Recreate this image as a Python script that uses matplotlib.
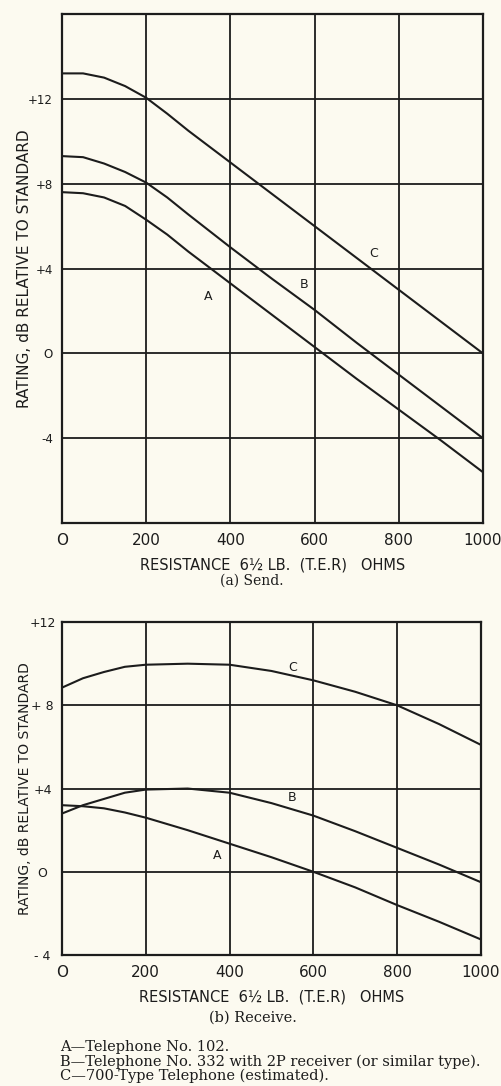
import numpy as np
import matplotlib
matplotlib.use('Agg')
import matplotlib.pyplot as plt

# resistance, ohms
x_send = [0, 50, 100, 150, 200, 250, 300, 400, 500, 600, 700, 800, 900, 1000]
send_A = [7.6, 7.55, 7.35, 6.95, 6.3, 5.6, 4.8, 3.3, 1.8, 0.3, -1.2, -2.65, -4.1, -5.6]
send_B = [9.3, 9.25, 8.95, 8.55, 8.05, 7.35, 6.55, 5.0, 3.5, 2.05, 0.5, -1.0, -2.5, -4.0]
send_C = [13.2, 13.2, 13.0, 12.6, 12.05, 11.3, 10.5, 9.0, 7.5, 6.0, 4.5, 3.0, 1.5, 0.0]

x_recv = [0, 50, 100, 150, 200, 300, 400, 500, 600, 700, 800, 900, 1000]
recv_A = [3.2, 3.15, 3.05, 2.85, 2.6, 2.0, 1.35, 0.7, 0.0, -0.75, -1.6, -2.4, -3.25]
recv_B = [2.8, 3.2, 3.5, 3.8, 3.95, 4.0, 3.8, 3.3, 2.7, 1.95, 1.15, 0.35, -0.5]
recv_C = [8.85, 9.3, 9.6, 9.85, 9.95, 10.0, 9.95, 9.65, 9.2, 8.65, 8.0, 7.1, 6.1]

x_ticks = [0, 200, 400, 600, 800, 1000]
x_ticklabels = ['O', '200', '400', '600', '800', '1000']
send_yticks = [-4, 0, 4, 8, 12]
send_yticklabels = ['-4', 'O', '+4', '+8', '+12']
recv_yticks = [-4, 0, 4, 8, 12]
recv_yticklabels = ['- 4', 'O', '+4', '+ 8', '+12']

# curve letter positions (x, y)
send_labels = {'A': (348, 2.7), 'B': (574, 3.25), 'C': (740, 4.7)}
recv_labels = {'A': (371, 0.8), 'B': (550, 3.55), 'C': (550, 9.8)}

legend_lines = ['A\u2014Telephone No. 102.',
                'B\u2014Telephone No. 332 with 2P receiver (or similar type).',
                'C\u2014700-Type Telephone (estimated).']

paper = '#fcfaf0'
ink = '#1c1c1c'
sans = ['DejaVu Sans']
serif = ['DejaVu Serif']

fig = plt.figure(figsize=(5.01, 10.86), dpi=100, facecolor=paper)


def setup(ax, ylim, gridy, yticks, yticklabels, ylab_size):
    ax.set_facecolor(paper)
    ax.set_xlim(0, 1000)
    ax.set_ylim(*ylim)
    for gx in x_ticks:
        ax.axvline(gx, color=ink, lw=1.3, zorder=1)
    for gy in gridy:
        ax.axhline(gy, color=ink, lw=1.3, zorder=1)
    for s in ax.spines.values():
        s.set_linewidth(1.6)
        s.set_color(ink)
    ax.set_xticks(x_ticks)
    ax.set_xticklabels(x_ticklabels, fontsize=11, family=sans)
    ax.set_yticks(yticks)
    ax.set_yticklabels(yticklabels, family=sans)
    ax.tick_params(length=0, colors=ink)
    ax.tick_params(axis='x', pad=7)
    ax.set_xlabel(u'RESISTANCE  6\u00bd LB.  (T.E.R)   OHMS', fontsize=10.5,
                  family=sans, color=ink, labelpad=7)
    ax.set_ylabel('RATING, dB RELATIVE TO STANDARD', fontsize=ylab_size,
                  family=sans, color=ink)


# (a) send
ax1 = fig.add_axes([0.1238, 0.5184, 0.840, 0.4687])
setup(ax1, (-8, 16), [-4, 0, 4, 8, 12], send_yticks, send_yticklabels, 11)
ax1.tick_params(axis='y', pad=6.5, labelsize=8.5)
ax1.yaxis.set_label_coords(-0.071, 0.5)
for y in [send_A, send_B, send_C]:
    ax1.plot(x_send, y, color=ink, lw=1.5, zorder=3)
for k, (lx, ly) in send_labels.items():
    ax1.text(lx, ly, k, fontsize=9, family=sans, color=ink,
             ha='center', va='center')
fig.text(252 / 501, 1 - 581 / 1086, '(a) Send.', fontsize=10, family=serif,
         ha='center', va='center', color=ink)

# (b) receive
ax2 = fig.add_axes([0.1238, 0.1206, 0.836, 0.3066])
setup(ax2, (-4, 12), [0, 4, 8], recv_yticks, recv_yticklabels, 10)
ax2.tick_params(axis='y', pad=14, labelsize=9)
for lab in ax2.get_yticklabels():
    lab.set_horizontalalignment('center')
ax2.yaxis.set_label_coords(-0.072, 0.5)
for y in [recv_A, recv_B, recv_C]:
    ax2.plot(x_recv, y, color=ink, lw=1.5, zorder=3)
for k, (lx, ly) in recv_labels.items():
    ax2.text(lx, ly, k, fontsize=9, family=sans, color=ink,
             ha='center', va='center')
fig.text(253 / 501, 1 - 1018 / 1086, '(b) Receive.', fontsize=10.5, family=serif,
         ha='center', va='center', color=ink)

for i, line in enumerate(legend_lines):
    fig.text(60 / 501, 1 - (1047 + 14.5 * i) / 1086, line, fontsize=10.5,
             family=serif, ha='left', va='center', color=ink)

fig.savefig('out.png', dpi=100, facecolor=paper)
